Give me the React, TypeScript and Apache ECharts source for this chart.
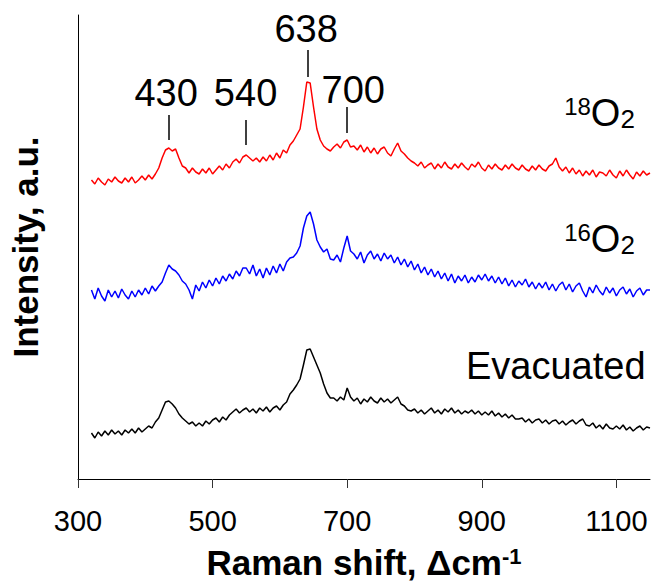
import React, { useEffect, useRef } from 'react';
import * as echarts from 'echarts';

const FONT = '"Liberation Sans", Arial, Helvetica, sans-serif';

// Raman shift sampling grid (cm-1)
const SHIFT_START = 320;
const SHIFT_STEP = 5;

// 18O2 spectrum (arbitrary intensity units)
const red18O2 = [
  299, 295, 301, 297, 294, 300, 297, 302, 298, 296,
  301, 297, 302, 296, 299, 303, 299, 304, 300, 305,
  311, 321, 329, 331, 328, 330, 321, 313, 311, 306,
  311, 307, 305, 310, 306, 311, 305, 309, 313, 309,
  315, 311, 317, 320, 316, 322, 324, 321, 318, 321,
  317, 322, 318, 324, 319, 326, 321, 329, 326, 334,
  338, 344, 350, 372, 397, 396, 372, 350, 339, 333,
  330, 328, 332, 335, 331, 337, 339, 332, 333, 329,
  334, 327, 332, 326, 331, 325, 330, 332, 326, 323,
  330, 336, 328, 325, 321, 318, 316, 313, 317, 311,
  314, 316, 310, 315, 311, 317, 312, 310, 315, 311,
  316, 312, 309, 315, 312, 317, 311, 308, 314, 310,
  315, 311, 309, 314, 310, 315, 311, 309, 314, 310,
  308, 313, 309, 314, 310, 308, 313, 315, 321, 312,
  308, 312, 306, 311, 305, 309, 303, 308, 304, 309,
  302, 307, 306, 303, 309, 304, 301, 308, 303, 309,
  304, 300, 307, 303, 308, 304, 306,
];

// 16O2 spectrum
const blue16O2 = [
  189, 180, 191, 183, 178, 189, 182, 188, 181, 190,
  184, 180, 188, 182, 189, 184, 191, 185, 193, 188,
  193, 197, 206, 214, 210, 208, 204, 198, 195, 189,
  180, 194, 188, 197, 191, 199, 193, 201, 195, 203,
  198, 205, 200, 208, 203, 211, 211, 205, 214, 203,
  210, 201, 211, 204, 213, 206, 215, 208, 217, 221,
  222, 226, 233, 251, 263, 267, 255, 239, 232, 227,
  230, 220, 219, 224, 217, 231, 243, 228, 225, 220,
  227, 216, 224, 228, 220, 225, 218, 226, 220, 224,
  216, 222, 214, 220, 212, 218, 209, 215, 206, 212,
  204, 210, 202, 208, 200, 206, 198, 205, 196, 203,
  198, 204, 196, 202, 197, 204, 199, 205, 198, 203,
  196, 202, 195, 201, 193, 199, 192, 198, 194, 200,
  192, 197, 190, 196, 191, 197, 189, 195, 188, 194,
  197, 189, 195, 187, 193, 196, 188, 182, 192, 186,
  194, 188, 184, 192, 186, 191, 183, 189, 192, 185,
  190, 182, 188, 191, 184, 189, 189,
];

// Evacuated spectrum
const blackEvac = [
  46, 41, 47, 43, 48, 44, 49, 45, 48, 44,
  49, 46, 50, 46, 51, 47, 50, 53, 51, 57,
  61, 69, 77, 78, 75, 71, 65, 61, 58, 55,
  57, 53, 56, 53, 58, 55, 59, 61, 57, 62,
  59, 64, 67, 70, 66, 69, 71, 67, 70, 66,
  71, 68, 72, 67, 71, 73, 69, 74, 77, 85,
  89, 94, 100, 114, 129, 130, 122, 114, 106, 95,
  86, 81, 81, 78, 82, 79, 91, 82, 78, 81,
  75, 80, 77, 82, 78, 76, 81, 77, 80, 76,
  79, 82, 75, 73, 69, 68, 70, 66, 69, 65,
  68, 71, 66, 69, 65, 70, 67, 71, 66, 69,
  65, 68, 66, 69, 65, 68, 64, 67, 64, 68,
  63, 66, 62, 65, 61, 64, 60, 60, 61, 57,
  60, 56, 59, 60, 56, 59, 55, 58, 59, 55,
  58, 54, 57, 59, 55, 58, 60, 54, 53, 56,
  51, 54, 50, 55, 51, 50, 53, 50, 54, 49,
  52, 48, 51, 53, 49, 52, 51,
];

const ramanShift = red18O2.map((_, i) => SHIFT_START + i * SHIFT_STEP);

// x axis ticks
const xTicks = [300, 500, 700, 900, 1100];

// peak annotations
const peakLabels = ['430', '540', '638', '700'];
const peakLabelX = [431, 549, 639, 709];
const peakLabelY = [386, 386, 450, 389];
const peakTickX = [435, 550, 641, 699];
const peakTickTop = [364, 359, 429, 372];
const peakTickBottom = [339, 334, 402, 346];

// trace names
const traceNames = ['18O2', '16O2', 'Evacuated'];
const traceNameRich = ['{sup|18}{main|O}{sub|2}', '{sup|16}{main|O}{sub|2}', '{main|Evacuated}'];
const traceNameX = [1075, 1075, 1010];
const traceNameY = [366, 240, 113];

export default function App() {
  const ref = useRef<HTMLDivElement>(null);
  useEffect(() => {
    if (!ref.current) return;
    const chart = echarts.init(ref.current, null, { renderer: 'svg' });
    const line = (name: string, vals: number[], color: string, extra: any = {}) => ({
      name,
      type: 'line',
      data: vals.map((v, i) => [ramanShift[i], v]),
      symbol: 'none',
      lineStyle: { color, width: 1.5 },
      itemStyle: { color },
      silent: true,
      z: 2,
      ...extra,
    });
    const labelBase = {
      color: '#000',
      fontFamily: FONT,
      textBorderWidth: 0,
      textShadowBlur: 0,
      opacity: 1,
    };
    chart.setOption({
      animation: false,
      backgroundColor: '#fff',
      textStyle: { fontFamily: FONT },
      grid: { left: 78, right: 2, top: 15, bottom: 107, containLabel: false, outerBoundsMode: 'none' },
      xAxis: {
        type: 'value',
        min: 300,
        max: 1150,
        interval: 200,
        name: 'Raman shift, Δcm{sup|-1}',
        nameLocation: 'middle',
        nameGap: 66,
        nameTextStyle: {
          fontSize: 35,
          fontWeight: 'bold',
          color: '#000',
          fontFamily: FONT,
          rich: {
            sup: { fontSize: 22, fontWeight: 'bold', color: '#000', fontFamily: FONT, verticalAlign: 'top', lineHeight: 22 },
          },
        },
        axisLine: { show: true, onZero: false, lineStyle: { color: '#000', width: 1 } },
        axisTick: { show: true, length: 9, lineStyle: { color: '#333' }, customValues: xTicks },
        axisLabel: {
          fontSize: 29,
          color: '#000',
          fontFamily: FONT,
          margin: 27,
          customValues: xTicks,
          formatter: (v: number) => String(v),
        },
        splitLine: { show: false },
      },
      yAxis: {
        type: 'value',
        min: 0,
        max: 464,
        name: 'Intensity, a.u.',
        nameLocation: 'middle',
        nameGap: 35,
        nameTextStyle: { fontSize: 35, fontWeight: 'bold', color: '#000', fontFamily: FONT },
        axisLine: { show: true, lineStyle: { color: '#000', width: 1 } },
        axisTick: { show: false },
        axisLabel: { show: false },
        splitLine: { show: false },
      },
      series: [
        line('Evacuated', blackEvac, '#000000'),
        line('16O2', blue16O2, '#0000ff'),
        line('18O2', red18O2, '#ff0000', {
          markLine: {
            silent: true,
            symbol: ['none', 'none'],
            label: { show: false },
            lineStyle: { color: '#000', width: 1.5, type: 'solid' },
            data: peakTickX.map((x, i) => [
              { coord: [x, peakTickTop[i]] },
              { coord: [x, peakTickBottom[i]] },
            ]),
          },
        }),
        {
          type: 'scatter',
          silent: true,
          symbol: 'circle',
          symbolSize: 1,
          itemStyle: { color: 'rgba(255,255,255,0)' },
          data: peakLabels.map((t, i) => ({ name: t, value: [peakLabelX[i], peakLabelY[i]] })),
          label: {
            show: true,
            position: 'inside',
            formatter: '{b}',
            fontSize: 38,
            ...labelBase,
          },
          z: 5,
        },
        {
          type: 'scatter',
          silent: true,
          symbol: 'circle',
          symbolSize: 1,
          itemStyle: { color: 'rgba(255,255,255,0)' },
          data: traceNames.map((t, i) => ({ name: t, value: [traceNameX[i], traceNameY[i]] })),
          label: {
            show: true,
            position: 'inside',
            formatter: (p: any) => traceNameRich[p.dataIndex],
            ...labelBase,
            rich: {
              sup: { fontSize: 24, lineHeight: 24, verticalAlign: 'top', ...labelBase },
              main: { fontSize: 38, lineHeight: 38, ...labelBase },
              sub: { fontSize: 26, lineHeight: 26, padding: [23, 0, 0, 0], verticalAlign: 'bottom', ...labelBase },
            },
          },
          z: 5,
        },
      ],
    });
    return () => chart.dispose();
  }, []);
  return (
    <div
      ref={ref}
      style={{ position: 'fixed', left: 0, top: 0, width: 652, height: 586, background: '#fff' }}
    />
  );
}
